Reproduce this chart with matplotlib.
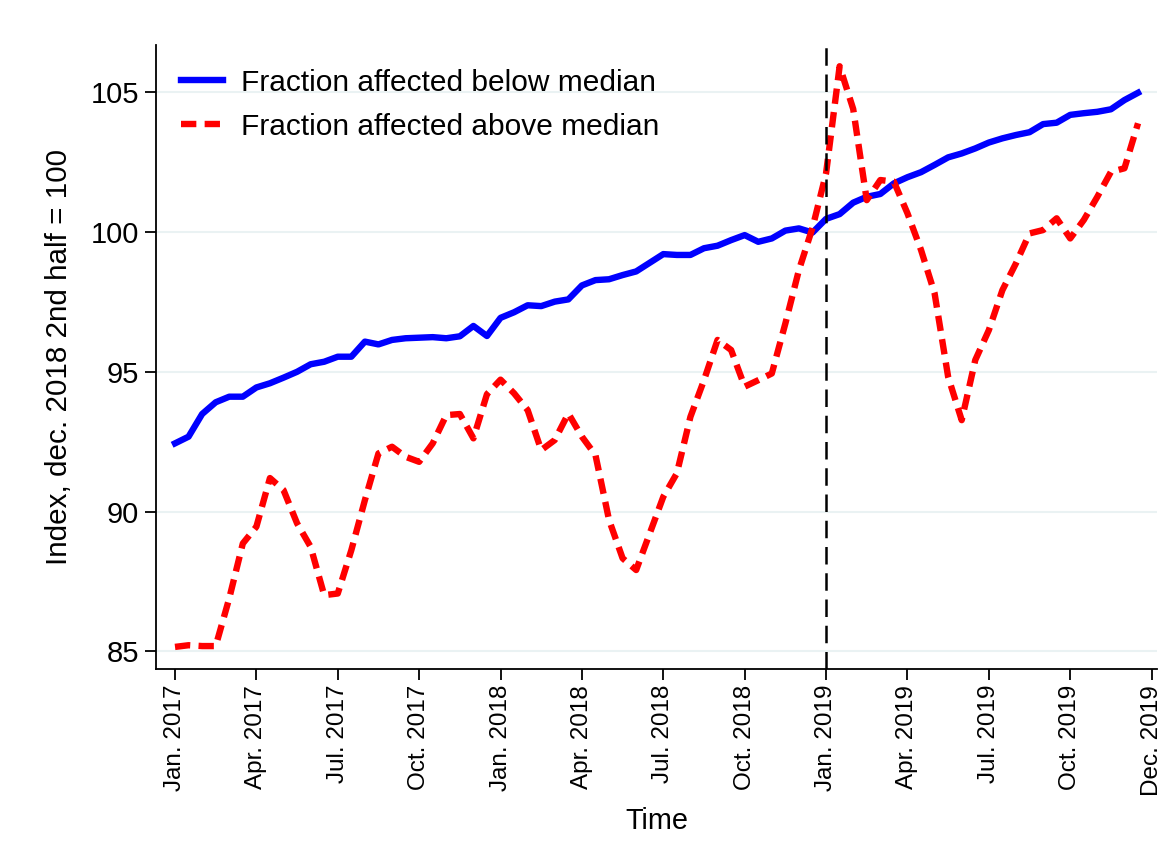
import numpy as np
import matplotlib
matplotlib.use("Agg")
import matplotlib.pyplot as plt

plt.rcParams['font.family'] = ['Liberation Sans', 'DejaVu Sans']

# semi-monthly observations, Jan. 2017 (first half) to Dec. 2019 (second half)
below_median = [92.44, 92.68, 93.49, 93.91, 94.11, 94.11, 94.44, 94.59, 94.79, 95.00,
                95.27, 95.36, 95.54, 95.54, 96.08, 95.98, 96.14, 96.20, 96.22, 96.24,
                96.20, 96.27, 96.64, 96.28, 96.93, 97.13, 97.38, 97.35, 97.51, 97.59,
                98.09, 98.28, 98.31, 98.46, 98.59, 98.90, 99.21, 99.18, 99.18, 99.42,
                99.51, 99.71, 99.89, 99.65, 99.77, 100.05, 100.13, 99.98, 100.47, 100.64,
                101.05, 101.26, 101.36, 101.74, 101.96, 102.14, 102.40, 102.67, 102.81, 102.99,
                103.20, 103.35, 103.47, 103.57, 103.86, 103.91, 104.19, 104.25, 104.30, 104.39,
                104.72, 104.98]
above_median = [85.16, 85.22, 85.19, 85.19, 86.90, 88.86, 89.46, 91.20, 90.77, 89.58,
                88.74, 87.01, 87.07, 88.62, 90.41, 92.08, 92.32, 91.96, 91.78, 92.44,
                93.45, 93.49, 92.62, 94.20, 94.72, 94.23, 93.63, 92.20, 92.56, 93.51,
                92.68, 92.02, 89.70, 88.33, 87.91, 89.22, 90.53, 91.37, 93.39, 94.70,
                96.14, 95.78, 94.47, 94.70, 94.94, 96.73, 98.64, 100.15, 102.10, 105.93,
                104.40, 101.14, 101.86, 101.80, 100.67, 99.36, 97.81, 94.82, 93.27, 95.42,
                96.49, 97.92, 98.88, 99.95, 100.07, 100.49, 99.77, 100.43, 101.26, 102.15,
                102.28, 103.89]
tick_months = [0, 3, 6, 9, 12, 15, 18, 21, 24, 27, 30, 33, 36]
tick_labels = ['Jan. 2017', 'Apr. 2017', 'Jul. 2017', 'Oct. 2017', 'Jan. 2018', 'Apr. 2018',
               'Jul. 2018', 'Oct. 2018', 'Jan. 2019', 'Apr. 2019', 'Jul. 2019', 'Oct. 2019',
               'Dec. 2019']
y_ticks = [85, 90, 95, 100, 105]
event_month = 24

# time in months since Jan. 2017
t = np.arange(len(below_median)) * 0.5

fig = plt.figure(figsize=(11.66, 8.65), dpi=100)
ax = fig.add_axes([0.1338, 0.2266, 0.8585, 0.7214])

ax.plot(t, below_median, color='#0000ff', lw=4.6, solid_joinstyle='round',
        label='Fraction affected below median', zorder=3)
ax.plot(t, above_median, color='#ff0000', lw=4.6, dashes=(2.4, 1.3), dash_capstyle='butt',
        label='Fraction affected above median', zorder=3)
ax.axvline(event_month, color='black', lw=1.8, dashes=(7, 3.5), zorder=4)

ax.set_xlim(-0.7, 36.2)
ax.set_ylim(84.37, 106.69)
ax.set_xticks(tick_months)
ax.set_xticklabels(tick_labels, rotation=90, fontsize=17.5)
ax.set_yticks(y_ticks)
ax.tick_params(axis='y', labelsize=21, length=8, width=1.3, pad=4)
ax.tick_params(axis='x', length=8, width=1.3)

ax.grid(axis='y', color='#eaf2f3', lw=1.5, zorder=0)
ax.set_axisbelow(True)
for s in ['top', 'right']:
    ax.spines[s].set_visible(False)
for s in ['left', 'bottom']:
    ax.spines[s].set_linewidth(1.3)

ax.set_xlabel('Time', fontsize=20.8, labelpad=8)
ax.set_ylabel('Index, dec. 2018 2nd half = 100', fontsize=21.3, labelpad=13)

ax.legend(loc='upper left', bbox_to_anchor=(0.006, 0.993), frameon=False, fontsize=21.5,
          handlelength=1.4, handletextpad=0.6, labelspacing=0.53, borderpad=0.15)

fig.savefig('out.png', dpi=100)
